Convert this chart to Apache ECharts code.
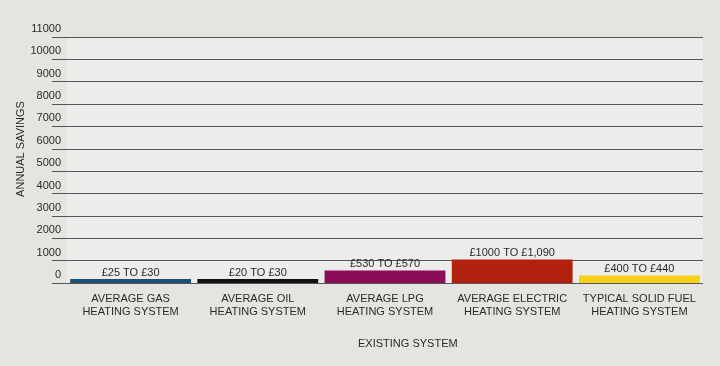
<!DOCTYPE html>
<html>
<head>
<meta charset="utf-8">
<script src="https://cdn.jsdelivr.net/npm/echarts@6/dist/echarts.min.js"></script>
<style>
html,body{margin:0;padding:0;background:#e4e4e0;}
#chart{width:720px;height:366px;}
</style>
</head>
<body>
<div id="chart"></div>
<script>
const categories = ['AVERAGE GAS\nHEATING SYSTEM','AVERAGE OIL\nHEATING SYSTEM','AVERAGE LPG\nHEATING SYSTEM','AVERAGE ELECTRIC\nHEATING SYSTEM','TYPICAL SOLID FUEL\nHEATING SYSTEM'];
const savings = [180, 180, 560, 1050, 340];
const barLabels = ['£25 TO £30','£20 TO £30','£530 TO £570','£1000 TO £1,090','£400 TO £440'];
const barColors = ['#1d4f73','#111111','#8b0c58','#b22010','#f5d11a'];
const yTicks = [0,1000,2000,3000,4000,5000,6000,7000,8000,9000,10000,11000];
const yAxisTitle = 'ANNUAL SAVINGS';
const xAxisTitle = 'EXISTING SYSTEM';

const FONT = 'Liberation Sans, Arial, sans-serif';
const chart = echarts.init(document.getElementById('chart'));
const yMax = yTicks[yTicks.length-1];
const yStep = yTicks[1]-yTicks[0];
chart.setOption({
  backgroundColor:'#e4e4e0',
  animation:false,
  grid:[
    {left:52,right:17,top:37,bottom:83,show:false},
    {left:67,right:17,top:37,bottom:83,show:true,backgroundColor:'#ececea',borderWidth:0}
  ],
  xAxis:[
    {gridIndex:0,type:'value',show:false,min:0,max:1},
    {gridIndex:1,type:'category',data:categories,
     axisLine:{show:false},axisTick:{show:false},
     axisLabel:{color:'#2a2a2a',fontFamily:FONT,fontSize:11,lineHeight:13,margin:9,interval:0}}
  ],
  yAxis:[
    {gridIndex:0,type:'value',min:0,max:yMax,interval:yStep,
     axisLine:{show:false},axisTick:{show:false},
     splitLine:{show:true,lineStyle:{color:'#555',width:1.2}},
     axisLabel:{color:'#2a2a2a',fontFamily:FONT,fontSize:11,margin:-9,align:'right',verticalAlign:'bottom',lineHeight:16,
       formatter:v=>String(v)}},
    {gridIndex:1,type:'value',min:0,max:yMax,interval:yStep,show:false,splitLine:{show:false}}
  ],
  graphic:[
    {type:'text',left:358,top:338,style:{text:xAxisTitle,fill:'#2a2a2a',font:'11px '+FONT,textAlign:'center'}},
    {type:'text',x:15,y:149,rotation:Math.PI/2,style:{text:yAxisTitle,fill:'#2a2a2a',font:'11px '+FONT,textAlign:'center',textVerticalAlign:'top'}}
  ],
  series:[{
    type:'bar',xAxisIndex:1,yAxisIndex:1,barWidth:'95%',
    data:savings.map((v,i)=>({value:v,itemStyle:{color:barColors[i]},label:{formatter:barLabels[i]}})),
    label:{show:true,position:'top',distance:1,color:'#2a2a2a',fontFamily:FONT,fontSize:11}
  }]
});
</script>
</body>
</html>
